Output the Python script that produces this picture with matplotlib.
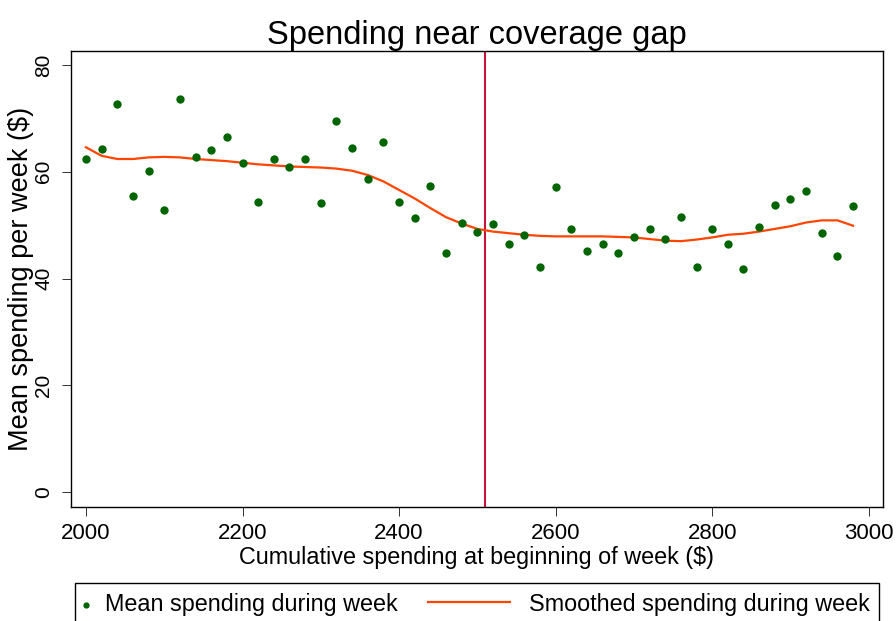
import matplotlib
matplotlib.use("Agg")
import matplotlib.pyplot as plt
from matplotlib.legend_handler import HandlerPathCollection

plt.rcParams['font.family'] = ['Liberation Sans', 'DejaVu Sans']

# week bins (cumulative spending at start of week)
week_start = [2000, 2020, 2040, 2060, 2080, 2100, 2120, 2140, 2160, 2180,
              2200, 2220, 2240, 2260, 2280, 2300, 2320, 2340, 2360, 2380,
              2400, 2420, 2440, 2460, 2480, 2500, 2520, 2540, 2560, 2580,
              2600, 2620, 2640, 2660, 2680, 2700, 2720, 2740, 2760, 2780,
              2800, 2820, 2840, 2860, 2880, 2900, 2920, 2940, 2960, 2980]

mean_spend = [62.4, 64.2, 72.7, 55.5, 60.2, 52.8, 73.6, 62.7, 64.1, 66.5,
              61.7, 54.4, 62.4, 60.9, 62.4, 54.1, 69.5, 64.4, 58.7, 65.5,
              54.4, 51.3, 57.4, 44.7, 50.4, 48.8, 50.3, 46.4, 48.2, 42.1,
              57.1, 49.3, 45.1, 46.4, 44.7, 47.8, 49.2, 47.5, 51.6, 42.2,
              49.3, 46.4, 41.8, 49.7, 53.8, 54.9, 56.4, 48.5, 44.2, 53.6]

smooth_spend = [64.6, 63.0, 62.4, 62.4, 62.7, 62.8, 62.7, 62.4, 62.2, 62.0,
                61.7, 61.4, 61.2, 61.0, 60.9, 60.8, 60.6, 60.2, 59.4, 58.2,
                56.6, 55.0, 53.2, 51.5, 50.3, 49.3, 48.8, 48.5, 48.2, 48.0,
                47.9, 47.9, 47.9, 47.9, 47.8, 47.7, 47.4, 47.1, 47.0, 47.3,
                47.7, 48.2, 48.4, 48.8, 49.3, 49.8, 50.5, 50.9, 50.9, 49.9]

gap_start = 2510
xticks = [2000, 2200, 2400, 2600, 2800, 3000]
yticks = [0, 20, 40, 60, 80]


class SmallMarkerHandler(HandlerPathCollection):
    # stata puts the legend marker right next to its text
    def legend_artist(self, legend, orig_handle, fontsize, handlebox):
        handlebox.width = 0.1 * fontsize
        return super().legend_artist(legend, orig_handle, fontsize, handlebox)


fig = plt.figure(figsize=(8.96, 6.21), dpi=100)
ax = fig.add_axes([0.0789, 0.1831, 0.9069, 0.7353])

pts = ax.scatter(week_start, mean_spend, s=36, color='#006400', linewidths=0,
                 zorder=3, label='Mean spending during week')
line, = ax.plot(week_start, smooth_spend, color='#FF4500', lw=1.6, zorder=2,
                label='Smoothed spending during week')
ax.axvline(gap_start, color='#C8103C', lw=1.5, zorder=1)

ax.set_xlim(1980.5, 3018.6)
ax.set_ylim(-2.87, 82.7)
ax.set_xticks(xticks)
ax.set_yticks(yticks)

for sp in ax.spines.values():
    sp.set_linewidth(1.0)
    sp.set_color('black')

ax.tick_params(axis='both', direction='out', length=6.5, width=0.7, color='#333333')
ax.tick_params(axis='x', labelsize=16, pad=4.5)
ax.tick_params(axis='y', labelsize=15, pad=6, labelrotation=90)
for lab in ax.get_yticklabels():
    lab.set_va('center')

ax.set_xlabel('Cumulative spending at beginning of week ($)', fontsize=16.8, labelpad=2)
ax.set_ylabel('Mean spending per week ($)', fontsize=19.5, labelpad=0)
ax.set_title('Spending near coverage gap', fontsize=23.5, pad=4)

# legend box runs off the bottom of the image, as in the original export
leg = fig.legend(handles=[pts, line], loc='upper center',
                 bbox_to_anchor=(477 / 896, 1 - 583.3 / 621),
                 ncol=2, fontsize=16.8, frameon=True, fancybox=False,
                 edgecolor='black', framealpha=1, borderpad=0.4,
                 borderaxespad=0, handlelength=3.5, handletextpad=0.8,
                 columnspacing=1.3, scatterpoints=1, markerscale=0.75,
                 handler_map={pts: SmallMarkerHandler()})
leg.get_frame().set_linewidth(1.0)

fig.savefig('out.png', dpi=100)
